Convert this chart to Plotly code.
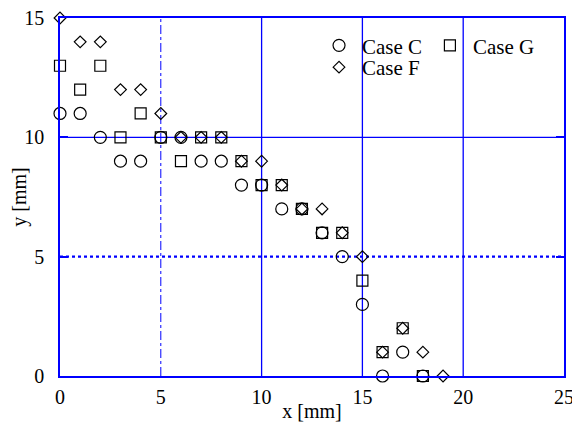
import plotly.graph_objects as go

# Data
x_c = [0, 1, 2, 3, 4, 5, 6, 7, 8, 9, 10, 11, 12, 13, 14, 15, 16, 17, 18]
y_c = [11, 11, 10, 9, 9, 10, 10, 9, 9, 8, 8, 7, 7, 6, 5, 3, 0, 1, 0]

x_g = [0, 1, 2, 3, 4, 5, 6, 7, 8, 9, 10, 11, 12, 13, 14, 15, 16, 17, 18]
y_g = [13, 12, 13, 10, 11, 10, 9, 10, 10, 9, 8, 8, 7, 6, 6, 4, 1, 2, 0]

x_f = [0, 1, 2, 3, 4, 5, 6, 7, 8, 9, 10, 11, 12, 13, 14, 15, 16, 17, 18, 19]
y_f = [15, 14, 14, 12, 12, 11, 10, 10, 10, 9, 9, 8, 7, 7, 6, 5, 1, 2, 1, 0]

x_ticks = [0, 5, 10, 15, 20, 25]
y_ticks = [0, 5, 10, 15]

# grid lines: (value, dash, width)
x_grid = [(5, "dashdot", 1), (10, "solid", 1.3), (15, "solid", 1.3), (20, "solid", 1.3)]
y_grid = [(5, "dot", 2.2), (10, "solid", 1.3)]

BLUE = "#0000ff"
FONT = "Liberation Serif"

fig = go.Figure()
mk_line = dict(color="black", width=1.2)
fig.add_trace(go.Scatter(x=x_c, y=y_c, mode="markers", name="Case C", cliponaxis=False,
                         marker=dict(symbol="circle-open", size=12, color="black", line=mk_line),
                         legend="legend"))
fig.add_trace(go.Scatter(x=x_g, y=y_g, mode="markers", name="Case G", cliponaxis=False,
                         marker=dict(symbol="square-open", size=11, color="black", line=mk_line),
                         legend="legend2"))
fig.add_trace(go.Scatter(x=x_f, y=y_f, mode="markers", name="Case F", cliponaxis=False,
                         marker=dict(symbol="diamond-open", size=9, color="black", line=mk_line),
                         legend="legend3"))

shapes = []
for v, d, w in x_grid:
    shapes.append(dict(type="line", xref="x", yref="paper", x0=v, x1=v, y0=0, y1=1,
                       line=dict(color=BLUE, width=w, dash=d), layer="below"))
for v, d, w in y_grid:
    shapes.append(dict(type="line", xref="paper", yref="y", x0=0, x1=1, y0=v, y1=v,
                       line=dict(color=BLUE, width=w, dash=d), layer="below"))

leg_common = dict(xanchor="left", yanchor="top", bgcolor="rgba(0,0,0,0)",
                  font=dict(family=FONT, size=21), itemwidth=36)

fig.update_layout(
    width=572, height=414,
    margin=dict(l=52, r=16, t=10, b=46, autoexpand=False),
    paper_bgcolor="white", plot_bgcolor="white",
    font=dict(family=FONT, size=20, color="black"),
    shapes=shapes,
    xaxis=dict(range=[0, 25], tickvals=x_ticks, showgrid=False, zeroline=False,
               showline=True, linecolor=BLUE, linewidth=1.5, mirror=True,
               ticks="", automargin=False, ticklabelstandoff=2,
               ticklabeloverflow="allow",
               title=dict(text="x [mm]", standoff=0, font=dict(family=FONT, size=20)),
               tickfont=dict(family=FONT, size=20)),
    yaxis=dict(range=[0, 15], tickvals=y_ticks, showgrid=False, zeroline=False,
               showline=True, linecolor=BLUE, linewidth=1.5, mirror="ticks",
               ticks="inside", ticklen=8, tickcolor=BLUE, tickwidth=1.5,
               automargin=False, ticklabelstandoff=10,
               ticklabeloverflow="allow",
               title=dict(text="y [mm]", standoff=12, font=dict(family=FONT, size=20)),
               tickfont=dict(family=FONT, size=20)),
    legend=dict(x=0.508, y=0.980, **leg_common),
    legend2=dict(x=0.728, y=0.980, **leg_common),
    legend3=dict(x=0.508, y=0.919, **leg_common),
    showlegend=True,
)

fig.write_html("out.html")
